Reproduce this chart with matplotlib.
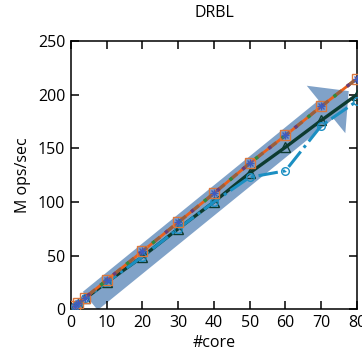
"""DRBL scalability chart"""
import numpy as np, matplotlib
matplotlib.use('Agg')
import matplotlib.pyplot as plt
from matplotlib.patches import FancyArrowPatch
plt.rcParams.update({'font.family':['Open Sans','DejaVu Sans'],'font.size':11.5,'axes.linewidth':1.1})

cores=[1,2,4,10,20,30,40,50,60,70,80]
upper=[2.7,5.4,10.8,27,54,81,108,136,162,189,215]
dark=[2.5,5,10,25,49,75,100,127,151,176,200]
blue=[2.5,5,10,25,49,75,100,123,129,171,194]

fig=plt.figure(figsize=(3.62,3.57),dpi=100)
ax=fig.add_axes([0.196,0.134,0.79,0.751])

# big trend arrow
arr=FancyArrowPatch((4.8,6),(78.3,205),arrowstyle='simple,head_length=21,head_width=44,tail_width=17',
                    mutation_scale=1,color='#80a2c8',lw=0,zorder=1)
ax.add_patch(arr)

ax.plot(cores,dark,'-',color='#0d3b30',lw=2.4,marker='^',ms=6.5,mfc='none',mec='#0d3b30',mew=1,zorder=3)
ax.plot(cores,blue,'-.',color='#1b8fc2',lw=2.2,marker='o',ms=5.5,mfc='none',mec='#1b8fc2',mew=1,zorder=3)
ax.plot(cores,upper,'-',color='#e8601c',lw=2,marker='s',ms=6.5,mfc='none',mec='#d9773f',mew=1,zorder=4)
ax.plot(cores,upper,color='#9a5f3e',lw=2.4,ls=(0,(3,2)),zorder=5)
ax.plot(cores,upper,color='#2e8b3e',lw=2.4,ls=(0,(1,9)),zorder=6)
ax.plot(cores,upper,color='#6a3d7a',lw=2.4,ls=(5,(1,9)),zorder=6)
ax.plot(cores,upper,ls='none',marker='x',ms=5,mec='#3d5cc0',mew=1,zorder=7)
ax.plot(cores,upper,ls='none',marker='+',ms=6,mec='#3d5cc0',mew=1,zorder=7)

ax.set_xlim(0,80); ax.set_ylim(0,250)
ax.set_xticks(range(0,81,10)); ax.set_yticks(range(0,251,50))
ax.tick_params(direction='in',length=6,width=1.1,top=True,right=True,pad=4)
ax.set_xlabel('#core',labelpad=3)
ax.set_ylabel('M ops/sec',labelpad=5)
ax.set_title('DRBL',fontsize=11.5,pad=17)
fig.savefig('out.png',dpi=100)
